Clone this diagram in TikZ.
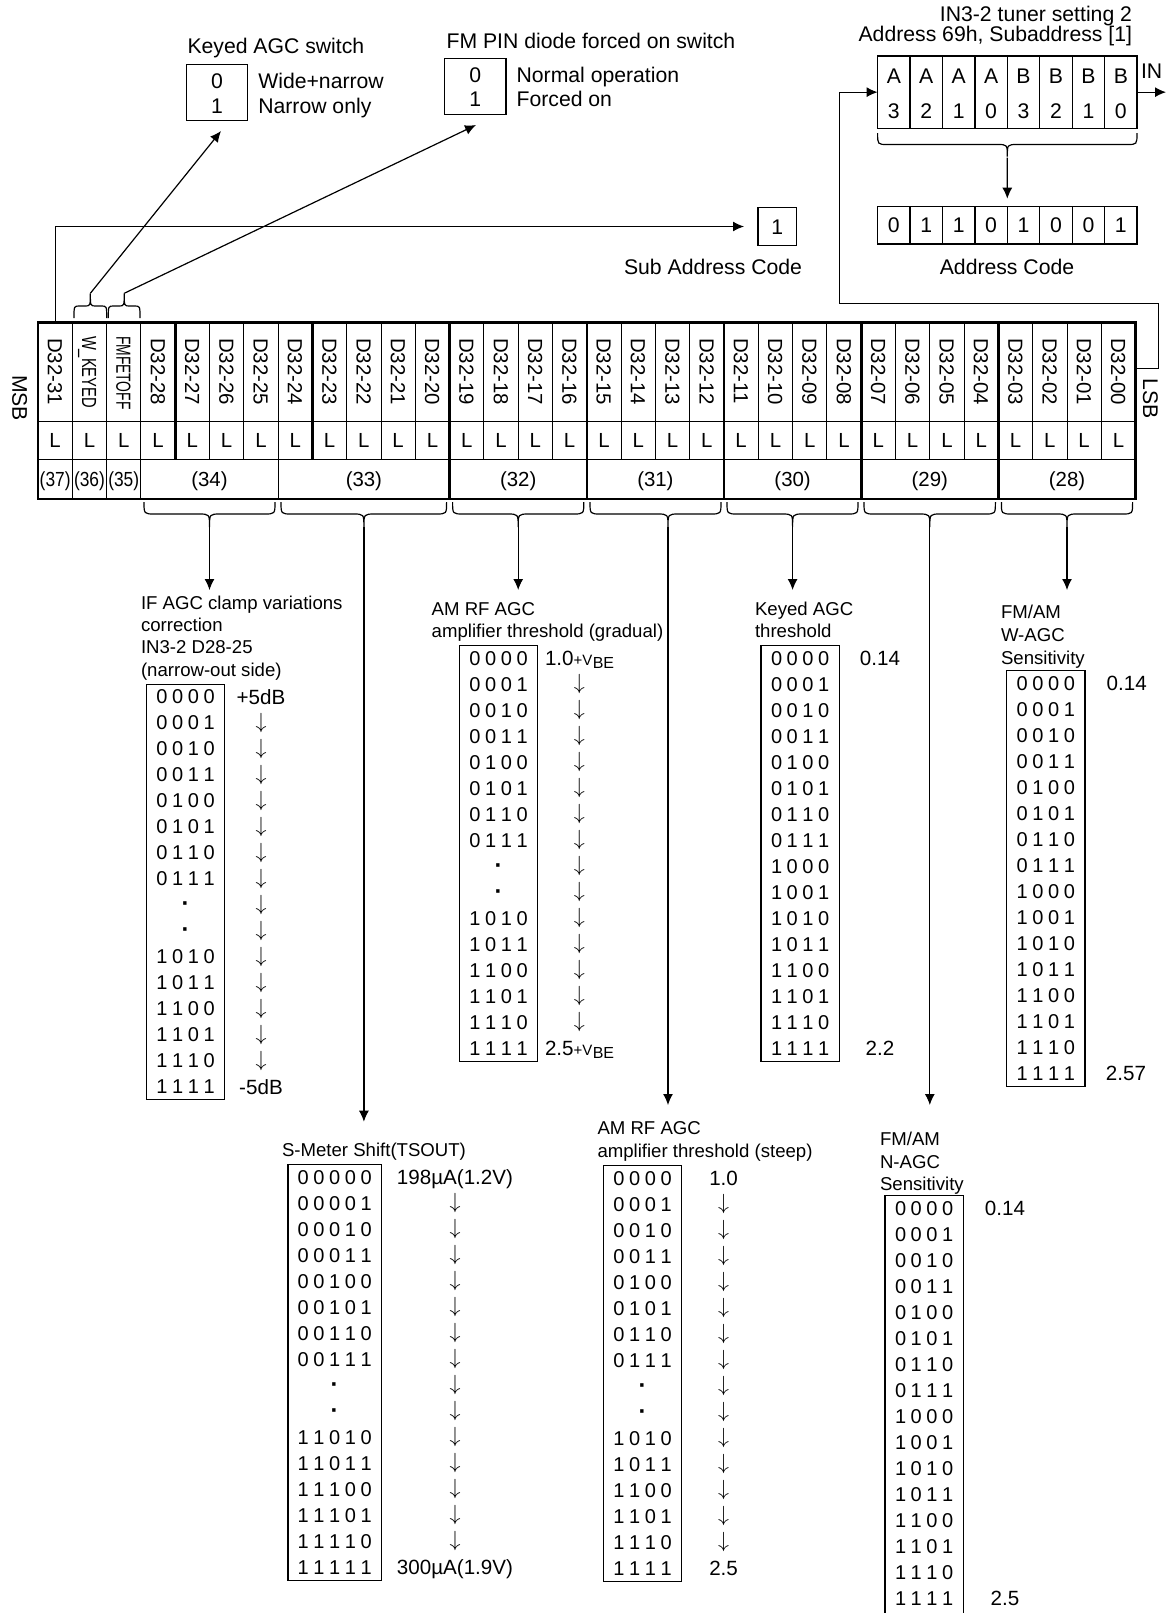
\documentclass[tikz,border=0pt]{standalone}
\usepackage{fontspec}
\setmainfont{Liberation Sans}
\usepackage{graphicx}
\usetikzlibrary{arrows.meta}
\def\bitzx#1#2{#1\ifx\relax#2\else\kern2.3pt\expandafter\bitzx\fi#2}
\def\bitz#1{\bitzx#1\relax}
\newcommand\dn{$\downarrow$}
\newcommand\dt{{\fontsize{12}{12}\selectfont\bfseries ·}}
\newcommand\vbe{{\fontsize{7.5}{9}\selectfont+V\kern0.2pt\raisebox{-1.5pt}{\fontsize{8}{9}\selectfont BE}}}
\newcommand\rowsA{0000,0001,0010,0011,0100,0101,0110,0111,\dt,\dt,1010,1011,1100,1101,1110,1111}
\newcommand\rowsB{00000,00001,00010,00011,00100,00101,00110,00111,\dt,\dt,11010,11011,11100,11101,11110,11111}
\newcommand\rowsF{0000,0001,0010,0011,0100,0101,0110,0111,1000,1001,1010,1011,1100,1101,1110,1111}
\newcommand\cbrace[7]{%
  \draw[brl] (#1,#4) .. controls (#1,#5) and (#1,#5) .. ({#1+#7},#5) -- ({#3-#7},#5)
    .. controls (#3,#5) and (#3,#5) .. (#3,#6) .. controls (#3,#5) and (#3,#5) .. ({#3+#7},#5)
    -- ({#2-#7},#5) .. controls (#2,#5) and (#2,#5) .. (#2,#4);}
\newcommand\lowtab[6]{%
  \node[draw, boxl, anchor=north west, minimum width=#3*0.5pt, minimum height=#6*0.5pt] (#1) at (#2,{#4-12.5}) {};
  \foreach \t [count=\k from 0] in #5 {\node[fd] (#1r\k) at ({#2+#3/2},{#4+26*\k}) {\expandafter\bitz\expandafter{\t}};}}
\newcommand\vals[5]{%
  \node[fv] (#1v0) at (#2,#3) {#4};
  \foreach \k in {1,...,14} {\node[fa] (#1v\k) at (#2,{#3+26*\k}) {\dn};}
  \node[fv] (#1v15) at (#2,{#3+26*15}) {#5};}
\begin{document}
\begin{tikzpicture}[x=0.5pt,y=-0.5pt,
  every node/.style={inner sep=0pt,outer sep=0pt},
  ft/.style={font=\fontsize{10.6}{12}\selectfont,text height=7.6pt,text depth=0pt},
  fl/.style={font=\fontsize{9.3}{11}\selectfont,text height=6.7pt,text depth=0pt},
  fv/.style={font=\fontsize{10.3}{12}\selectfont,text height=7.4pt,text depth=0pt},
  fd/.style={font=\fontsize{10}{11}\selectfont,text height=7.2pt,text depth=0pt},
  fr/.style={font=\fontsize{10.2}{12}\selectfont,text height=7.3pt,text depth=0pt},
  fa/.style={font=\fontsize{10.5}{12}\selectfont},
  thn/.style={line width=0.5pt},
  thk/.style={line width=1.3pt},
  boxl/.style={line width=0.6pt},
  brl/.style={line width=0.6pt},
  arr/.style={line width=0.6pt,-{Latex[length=5.5pt,width=5pt]}}]
\useasboundingbox (0,0) rectangle (1169,1613);
\def\cw{34.3}
% ---------------- register table ----------------
\node[draw, thk, anchor=north west, minimum width=1097.6*0.5pt, minimum height=176.7*0.5pt] (reg) at (38,322.3) {};
\foreach \i in {1,...,31} {
  \pgfmathtruncatemacro\m{mod(\i,4)}
  \ifnum\m=0 \draw[thk] ({38+\cw*\i},322.3) -- ({38+\cw*\i},459.3);
  \else \draw[thn] ({38+\cw*\i},322.3) -- ({38+\cw*\i},459.3); \fi}
\foreach \i in {1,2,3,7} {\draw[thn] ({38+\cw*\i},459.3) -- ({38+\cw*\i},499);}
\foreach \i in {12,16,20,24,28} {\draw[thk] ({38+\cw*\i},459.3) -- ({38+\cw*\i},499);}
\draw[thn] (38,421.7) -- (1135.6,421.7);
\draw[thn] (38,459.3) -- (1135.6,459.3);
\node[fr, rotate=-90, anchor=west] (b0) at ({38+\cw*0.5},338) {D32-31};
\node[fr, rotate=-90, anchor=west] (b1) at ({38+\cw*1.5},336) {\scalebox{0.72}[1]{W\_KEYED}};
\node[fr, rotate=-90, anchor=west] (b2) at ({38+\cw*2.5},336) {\scalebox{0.68}[1]{FMFETOFF}};
\foreach \lab [count=\i from 3] in {D32-28,D32-27,D32-26,D32-25,D32-24,D32-23,D32-22,D32-21,D32-20,D32-19,D32-18,D32-17,D32-16,D32-15,D32-14,D32-13,D32-12,D32-11,D32-10,D32-09,D32-08,D32-07,D32-06,D32-05,D32-04,D32-03,D32-02,D32-01,D32-00}
  {\node[fr, rotate=-90, anchor=west] (b\i) at ({38+\cw*(\i+0.5)},338) {\lab};}
\foreach \i in {0,...,31} {\node[fr] (l\i) at ({38+\cw*(\i+0.5)},440.5) {L};}
\node[fr] (n37) at ({38+\cw*0.5},479) {\scalebox{0.85}[1]{(37)}};
\node[fr] (n36) at ({38+\cw*1.5},479) {\scalebox{0.85}[1]{(36)}};
\node[fr] (n35) at ({38+\cw*2.5},479) {\scalebox{0.85}[1]{(35)}};
\node[fr] (n34) at (209.5,479) {(34)};
\node[fr] (n33) at (363.9,479) {(33)};
\node[fr] (n32) at (518.2,479) {(32)};
\node[fr] (n31) at (655.4,479) {(31)};
\node[fr] (n30) at (792.6,479) {(30)};
\node[fr] (n29) at (929.8,479) {(29)};
\node[fr] (n28) at (1067,479) {(28)};
\node[ft, rotate=-90] (msb) at (20,398) {MSB};
\node[ft, rotate=-90] (lsb) at (1150.6,399) {LSB};
% ---------------- top-left switches ----------------
\node[ft, anchor=west] (kttl) at (187.5,45.5) {Keyed AGC switch};
\node[draw, boxl, minimum width=30.6pt, minimum height=28.2pt] (kbox) at (217,92.5) {};
\node[ft] (k0) at (217,81) {0};
\node[ft] (k1) at (217,106) {1};
\node[ft, anchor=west] (kt0) at (258.3,81) {Wide+narrow};
\node[ft, anchor=west] (kt1) at (258.3,106) {Narrow only};
\node[ft, anchor=west] (fttl) at (446.6,40.5) {FM PIN diode forced on switch};
\node[draw, boxl, minimum width=30.6pt, minimum height=28pt] (fbox) at (475.3,86.3) {};
\node[ft] (f0) at (475.3,75) {0};
\node[ft] (f1) at (475.3,99.3) {1};
\node[ft, anchor=west] (ft0) at (516.6,75) {Normal operation};
\node[ft, anchor=west] (ft1) at (516.6,99.3) {Forced on};
% small braces above W_KEYED / FMFETOFF
\cbrace{74}{106.7}{90.35}{318}{306}{293.3}{5.5}
\cbrace{108.3}{140}{124.2}{318}{306}{293.3}{5.5}
\coordinate (tw) at (90.35,293.3);
\coordinate (tf) at (124.2,293.3);
\coordinate (ew) at (221,131);
\coordinate (ef) at (476,125);
\draw[arr] (tw) -- (ew);
\draw[arr] (tf) -- (ef);
% ---------------- sub address ----------------
\node[draw, boxl, minimum width=19.35pt, minimum height=18.65pt] (sub) at (777.35,226.5) {};
\node[ft] (subv) at (777.35,226.5) {1};
\node[ft] (subt) at (713,266.7) {Sub Address Code};
\coordinate (c0top) at ({38+\cw*0.5},322.3);
\draw[arr, shorten >=7pt] (c0top) |- (sub.west);
% ---------------- top-right address ----------------
\node[ft, anchor=east] (in1) at (1132,14) {IN3-2 tuner setting 2};
\node[ft, anchor=east] (in2) at (1132,33.5) {Address 69h, Subaddress [1]};
\foreach \a/\b [count=\i from 0] in {A/3,A/2,A/1,A/0,B/3,B/2,B/1,B/0} {
  \node[draw, boxl, minimum width=16.2pt, minimum height=36.15pt] (a\i) at ({877.6+32.43*(\i+0.5)},92.15) {};
  \node[ft] (al\i) at ({877.6+32.43*(\i+0.5)},76) {\a};
  \node[ft] (ad\i) at ({877.6+32.43*(\i+0.5)},110.7) {\b};}
\foreach \v [count=\i from 0] in {0,1,1,0,1,0,0,1} {
  \node[draw, boxl, minimum width=16.2pt, minimum height=18.65pt] (c\i) at ({877.6+32.43*(\i+0.5)},225.35) {};
  \node[ft] (cv\i) at ({877.6+32.43*(\i+0.5)},225.35) {\v};}
\node[ft] (adt) at (1007,266.7) {Address Code};
\node[ft, anchor=west] (intxt) at (1141,71) {IN};
\coordinate (inend) at (1166,92.15);
\draw[arr] (a7.east) -- (inend);
\cbrace{877.6}{1137}{1007.3}{133}{144.5}{156.7}{10}
\coordinate (atip) at (1007.3,157.5);
\draw[arr, shorten >=4pt] (atip) -- (c3.north east);
\coordinate (regE) at (1135.6,368.3);
\draw[arr] (regE) -- (1158.8,368.3) -- (1158.8,303.3) -- (839.5,303.3) -- (839.5,92.15) -- (a0.west);
% ---------------- lower braces ----------------
\cbrace{144}{275}{209.5}{502}{514}{527}{11}
\cbrace{281}{446.6}{363.9}{502}{514}{527}{11}
\cbrace{452.6}{583.8}{518.2}{502}{514}{527}{11}
\cbrace{590}{721}{668}{502}{514}{527}{11}
\cbrace{727}{858}{792.6}{502}{514}{527}{11}
\cbrace{864}{995.4}{929.8}{502}{514}{527}{11}
\cbrace{1001.4}{1132.6}{1067}{502}{514}{527}{11}
\foreach \n/\x/\y in {34/209.5/590,33/363.9/1121.7,32/518.2/590,31/668/1105,30/792.6/590,29/929.8/1105,28/1067/590} {
  \coordinate (s\n) at (\x,527);
  \coordinate (e\n) at (\x,\y);
  \draw[arr] (s\n) -- (e\n);}
% ---------------- table A (34) ----------------
\node[fl, anchor=west] (tA1) at (141,602.3) {IF AGC clamp variations};
\node[fl, anchor=west] (tA2) at (141,624.5) {correction};
\node[fl, anchor=west] (tA3) at (141,647) {IN3-2 D28-25};
\node[fl, anchor=west] (tA4) at (141,669.5) {(narrow-out side)};
\lowtab{A}{146.7}{77.6}{696.7}{\rowsA}{415.5}
\vals{A}{261}{696.7}{+5dB}{-5dB}
% ---------------- table B (33) ----------------
\node[fl, anchor=west] (tB1) at (282,1150) {S-Meter Shift(TSOUT)};
\lowtab{B}{287.9}{93.5}{1177.3}{\rowsB}{415.5}
\vals{B}{455}{1177.3}{198µA(1.2V)}{300µA(1.9V)}
% ---------------- table C (32) ----------------
\node[fl, anchor=west] (tC1) at (431.7,608.3) {AM RF AGC};
\node[fl, anchor=west] (tC2) at (431.7,631) {amplifier threshold (gradual)};
\lowtab{C}{459.3}{78.4}{658.3}{\rowsA}{415.5}
\node[fv, anchor=west] (Cv0) at (545,658.3) {1.0\vbe};
\foreach \k in {1,...,14} {\node[fa] (Cv\k) at (579.3,{658.3+26*\k}) {\dn};}
\node[fv, anchor=west] (Cv15) at (545,{658.3+26*15}) {2.5\vbe};
% ---------------- table D (31) ----------------
\node[fl, anchor=west] (tD1) at (597.5,1127.7) {AM RF AGC};
\node[fl, anchor=west] (tD2) at (597.5,1151) {amplifier threshold (steep)};
\lowtab{D}{603.6}{77.8}{1178.3}{\rowsA}{415.5}
\vals{D}{723.6}{1178.3}{1.0}{2.5}
% ---------------- table E (30) ----------------
\node[fl, anchor=west] (tE1) at (755,608.3) {Keyed AGC};
\node[fl, anchor=west] (tE2) at (755,631) {threshold};
\lowtab{E}{761}{78.3}{658.3}{\rowsF}{415.5}
\node[fv] (Ev0) at (880,658.3) {0.14};
\node[fv] (Ev15) at (880,{658.3+26*15}) {2.2};
% ---------------- table F (29) ----------------
\node[fl, anchor=west] (tF1) at (880,1138.3) {FM/AM};
\node[fl, anchor=west] (tF2) at (880,1161.7) {N-AGC};
\node[fl, anchor=west] (tF3) at (880,1184) {Sensitivity};
\lowtab{F}{885}{78.3}{1208.3}{\rowsF}{440}
\node[fv] (Fv0) at (1005,1208.3) {0.14};
\node[fv] (Fv15) at (1005,{1208.3+26*15}) {2.5};
% ---------------- table G (28) ----------------
\node[fl, anchor=west] (tG1) at (1001,611.7) {FM/AM};
\node[fl, anchor=west] (tG2) at (1001,634.3) {W-AGC};
\node[fl, anchor=west] (tG3) at (1001,657.3) {Sensitivity};
\lowtab{G}{1006.7}{78.3}{683.3}{\rowsF}{415.5}
\node[fv] (Gv0) at (1126.7,683.3) {0.14};
\node[fv] (Gv15) at (1126,{683.3+26*15}) {2.57};
\end{tikzpicture}
\end{document}
